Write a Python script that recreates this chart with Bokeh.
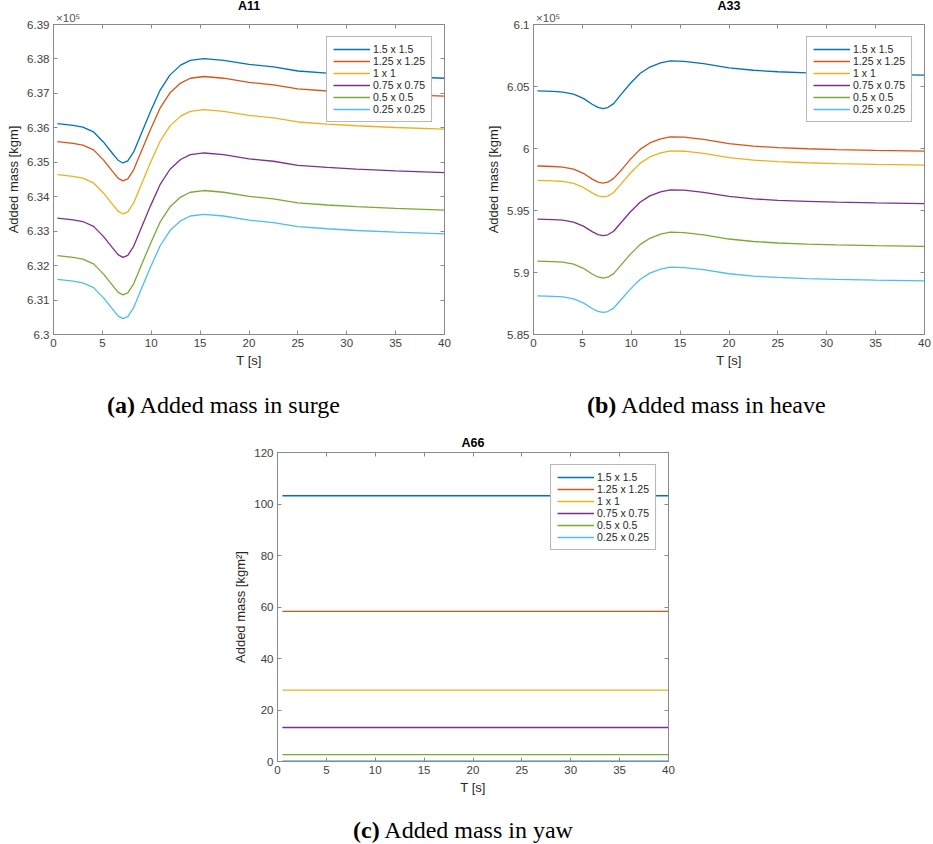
from bokeh.plotting import figure
from bokeh.models import Range1d, LinearAxis, FixedTicker, Legend, LegendItem, Div
from bokeh.layouts import column, row
from bokeh.embed import file_html
from bokeh.resources import INLINE

# ---------------- data ----------------
series_labels = ["1.5 x 1.5", "1.25 x 1.25", "1 x 1", "0.75 x 0.75", "0.5 x 0.5", "0.25 x 0.25"]
series_colors = ["#0072BD", "#D95319", "#EDB120", "#7E2F8E", "#77AC30", "#4DBEEE"]

T = [0.4, 2, 3, 4.1, 5.1, 6.0, 6.6, 7.1, 7.6, 8.2, 8.9, 9.9, 10.9, 11.9, 13.0,
     14.0, 15.4, 17.4, 20, 22.5, 25, 28, 31, 35, 40]

# A11 (x 10^5 kgm)
a11_1p5 = [6.3612, 6.3607, 6.3602, 6.3588, 6.3559, 6.3527, 6.3506, 6.3498, 6.3504, 6.3530, 6.3578, 6.3646, 6.3709,
           6.3753, 6.3782, 6.3796, 6.3801, 6.3796, 6.3784, 6.3777, 6.3765, 6.3759, 6.3754, 6.3749, 6.3744]
a11_1p25 = [6.3560, 6.3555, 6.3550, 6.3536, 6.3507, 6.3475, 6.3454, 6.3446, 6.3452, 6.3478, 6.3526, 6.3594, 6.3657,
            6.3701, 6.3730, 6.3744, 6.3749, 6.3744, 6.3732, 6.3725, 6.3713, 6.3707, 6.3702, 6.3697, 6.3692]
a11_1 = [6.3464, 6.3459, 6.3454, 6.3440, 6.3411, 6.3379, 6.3358, 6.3350, 6.3356, 6.3382, 6.3430, 6.3498, 6.3561,
         6.3605, 6.3634, 6.3648, 6.3653, 6.3648, 6.3636, 6.3629, 6.3617, 6.3611, 6.3606, 6.3601, 6.3596]
a11_0p75 = [6.3338, 6.3333, 6.3328, 6.3314, 6.3285, 6.3253, 6.3232, 6.3224, 6.3230, 6.3256, 6.3304, 6.3372, 6.3435,
            6.3479, 6.3508, 6.3522, 6.3527, 6.3522, 6.3510, 6.3503, 6.3491, 6.3485, 6.3480, 6.3475, 6.3470]
a11_0p5 = [6.3229, 6.3224, 6.3219, 6.3205, 6.3176, 6.3144, 6.3123, 6.3115, 6.3121, 6.3147, 6.3195, 6.3263, 6.3326,
           6.3370, 6.3399, 6.3413, 6.3418, 6.3413, 6.3401, 6.3394, 6.3382, 6.3376, 6.3371, 6.3366, 6.3361]
a11_0p25 = [6.3160, 6.3155, 6.3150, 6.3136, 6.3107, 6.3075, 6.3054, 6.3046, 6.3052, 6.3078, 6.3126, 6.3194, 6.3257,
            6.3301, 6.3330, 6.3344, 6.3349, 6.3344, 6.3332, 6.3325, 6.3313, 6.3307, 6.3302, 6.3297, 6.3292]

# A33 (x 10^5 kgm)
a33_1p5 = [6.0464, 6.0460, 6.0455, 6.0438, 6.0404, 6.0357, 6.0332, 6.0322, 6.0330, 6.0362, 6.0430, 6.0524, 6.0605,
           6.0657, 6.0690, 6.0706, 6.0703, 6.0685, 6.0651, 6.0631, 6.0619, 6.0610, 6.0603, 6.0597, 6.0591]
a33_1p25 = [5.9859, 5.9855, 5.9850, 5.9834, 5.9800, 5.9753, 5.9729, 5.9721, 5.9728, 5.9759, 5.9818, 5.9912, 5.9993,
            6.0045, 6.0078, 6.0094, 6.0091, 6.0073, 6.0039, 6.0019, 6.0007, 5.9998, 5.9991, 5.9985, 5.9979]
a33_1 = [5.9743, 5.9739, 5.9734, 5.9718, 5.9686, 5.9642, 5.9618, 5.9609, 5.9616, 5.9645, 5.9709, 5.9800, 5.9880,
         5.9932, 5.9965, 5.9981, 5.9978, 5.9960, 5.9926, 5.9906, 5.9894, 5.9885, 5.9878, 5.9872, 5.9866]
a33_0p75 = [5.9431, 5.9427, 5.9422, 5.9406, 5.9374, 5.9330, 5.9306, 5.9297, 5.9304, 5.9333, 5.9397, 5.9488, 5.9567,
            5.9618, 5.9651, 5.9667, 5.9664, 5.9647, 5.9614, 5.9594, 5.9582, 5.9574, 5.9567, 5.9561, 5.9555]
a33_0p5 = [5.9092, 5.9088, 5.9083, 5.9067, 5.9034, 5.8988, 5.8964, 5.8955, 5.8962, 5.8991, 5.9055, 5.9146, 5.9225,
           5.9276, 5.9309, 5.9325, 5.9322, 5.9304, 5.9270, 5.9250, 5.9238, 5.9229, 5.9222, 5.9216, 5.9210]
a33_0p25 = [5.8812, 5.8808, 5.8803, 5.8787, 5.8755, 5.8710, 5.8687, 5.8678, 5.8685, 5.8713, 5.8776, 5.8866, 5.8944,
            5.8995, 5.9027, 5.9043, 5.9040, 5.9023, 5.8990, 5.8971, 5.8960, 5.8951, 5.8945, 5.8939, 5.8933]

# A66 (kgm^2): constant over T
T66 = [0.5, 40]
a66_values = [103.2, 58.3, 27.7, 13.2, 2.7, 0.2]

x_ticks = [0, 5, 10, 15, 20, 25, 30, 35, 40]
x_tick_labels = ["0", "5", "10", "15", "20", "25", "30", "35", "40"]
a11_yticks = [6.30, 6.31, 6.32, 6.33, 6.34, 6.35, 6.36, 6.37, 6.38, 6.39]
a11_ylabels = ["6.3", "6.31", "6.32", "6.33", "6.34", "6.35", "6.36", "6.37", "6.38", "6.39"]
a33_yticks = [5.85, 5.90, 5.95, 6.00, 6.05, 6.10]
a33_ylabels = ["5.85", "5.9", "5.95", "6", "6.05", "6.1"]
a66_yticks = [0, 20, 40, 60, 80, 100, 120]
a66_ylabels = ["0", "20", "40", "60", "80", "100", "120"]
exponent_text = "\u00d710\u2075"
exponent_pos = 1.5

captions = [("(a)", "Added mass in surge"), ("(b)", "Added mass in heave"), ("(c)", "Added mass in yaw")]

# ---------------- styling ----------------
AXC = "#8a8a8a"
TXT = "#404040"
SANS = "Liberation Sans"
FW = 391


def style_axis(ax, ticks, labels, show_labels=True):
    ax.ticker = FixedTicker(ticks=ticks)
    ax.major_label_overrides = {t: l for t, l in zip(ticks, labels)}
    ax.major_tick_in = 4
    ax.major_tick_out = 0
    ax.minor_tick_in = 0
    ax.minor_tick_out = 0
    ax.axis_line_color = AXC
    ax.major_tick_line_color = AXC
    ax.major_label_text_font = SANS
    ax.major_label_text_color = TXT
    ax.axis_label_text_font = SANS
    ax.axis_label_text_font_style = "normal"
    ax.axis_label_text_color = "#262626"
    ax.axis_label_text_font_size = "13px"
    if show_labels:
        ax.major_label_text_font_size = "11.5px"
        ax.major_label_standoff = 4
    else:
        ax.major_label_text_font_size = "0px"
        ax.major_label_text_alpha = 0
        ax.major_label_standoff = 0


def make_panel(title, ylabel, ylo, yhi, yticks, ylabels, xs, ys_list, mbl, mbr, mbt, mbb, fh,
               title_standoff, title_valign, exponent=False):
    p = figure(frame_width=FW, frame_height=fh,
               x_range=Range1d(0, 40), y_range=Range1d(ylo, yhi),
               output_backend="svg", toolbar_location=None,
               min_border_left=mbl, min_border_right=mbr,
               min_border_top=mbt, min_border_bottom=mbb)
    p.title.text = title
    p.title.text_font = SANS
    p.title.text_font_size = "12.5px"
    p.title.text_font_style = "bold"
    p.title.text_color = "#000000"
    p.title.align = "center"
    p.title.standoff = title_standoff
    p.title.vertical_align = title_valign
    p.xgrid.visible = False
    p.ygrid.visible = False
    p.outline_line_color = AXC
    p.background_fill_color = "white"
    p.border_fill_color = "white"

    style_axis(p.xaxis[0], x_ticks, x_tick_labels)
    p.xaxis[0].axis_label = "T [s]"
    p.xaxis[0].axis_label_standoff = 3
    style_axis(p.yaxis[0], yticks, ylabels)
    p.yaxis[0].axis_label = ylabel
    p.yaxis[0].axis_label_standoff = 3

    top = LinearAxis()
    style_axis(top, x_ticks, x_tick_labels, show_labels=False)
    p.add_layout(top, "above")
    right = LinearAxis()
    style_axis(right, yticks, ylabels, show_labels=False)
    p.add_layout(right, "right")

    if exponent:
        ex = LinearAxis(ticker=FixedTicker(ticks=[exponent_pos]),
                        major_label_overrides={exponent_pos: exponent_text},
                        major_tick_in=0, major_tick_out=0, minor_tick_in=0, minor_tick_out=0,
                        axis_line_color=None, major_tick_line_color=None,
                        major_label_text_font=SANS, major_label_text_font_size="11.5px",
                        major_label_text_color="#505050", major_label_standoff=1)
        p.add_layout(ex, "above")

    items = []
    for lab, col, ys in zip(series_labels, series_colors, ys_list):
        r = p.line(xs, ys, line_color=col, line_width=1.3)
        items.append(LegendItem(label=lab, renderers=[r]))

    legend = Legend(items=items, location="top_right",
                    label_text_font=SANS, label_text_font_size="10.5px", label_text_color="#262626",
                    glyph_width=37, glyph_height=12, label_height=12, label_standoff=3,
                    spacing=0, padding=6, margin=12,
                    border_line_color="#707070", border_line_width=1,
                    background_fill_color="white", background_fill_alpha=1)
    p.add_layout(legend)
    return p


def caption_div(bold, rest, width, height, pad_left, pad_top):
    html = ('<div style="padding-left:%dpx;padding-top:%dpx;font-family:\'Liberation Serif\';'
            'font-size:24px;line-height:24px;color:#000;white-space:nowrap;margin:0">'
            '<b>%s</b> %s</div>') % (pad_left, pad_top, bold, rest)
    return Div(text=html, width=width, height=height, margin=0)


pa = make_panel("A11", "Added mass [kgm]", 6.30, 6.39, a11_yticks, a11_ylabels, T,
                [a11_1p5, a11_1p25, a11_1, a11_0p75, a11_0p5, a11_0p25],
                53, 16, 24, 40, 310, -11, "middle", exponent=True)
pb = make_panel("A33", "Added mass [kgm]", 5.85, 6.10, a33_yticks, a33_ylabels, T,
                [a33_1p5, a33_1p25, a33_1, a33_0p75, a33_0p5, a33_0p25],
                73, 8, 24, 40, 310, -11, "middle", exponent=True)
pc = make_panel("A66", "Added mass [kgm\u00b2]", 0, 120, a66_yticks, a66_ylabels, T66,
                [[v, v] for v in a66_values],
                277, 256, 21, 40, 309, 6, "bottom")

cap_a = caption_div(captions[0][0], captions[0][1], 460, 56, 107, 19)
cap_b = caption_div(captions[1][0], captions[1][1], 472, 56, 127, 19)
cap_c = caption_div(captions[2][0], captions[2][1], 924, 42, 353, 17)

layout = column(row(pa, pb), row(cap_a, cap_b), pc, cap_c)
open("out.html", "w").write(file_html(layout, INLINE))
